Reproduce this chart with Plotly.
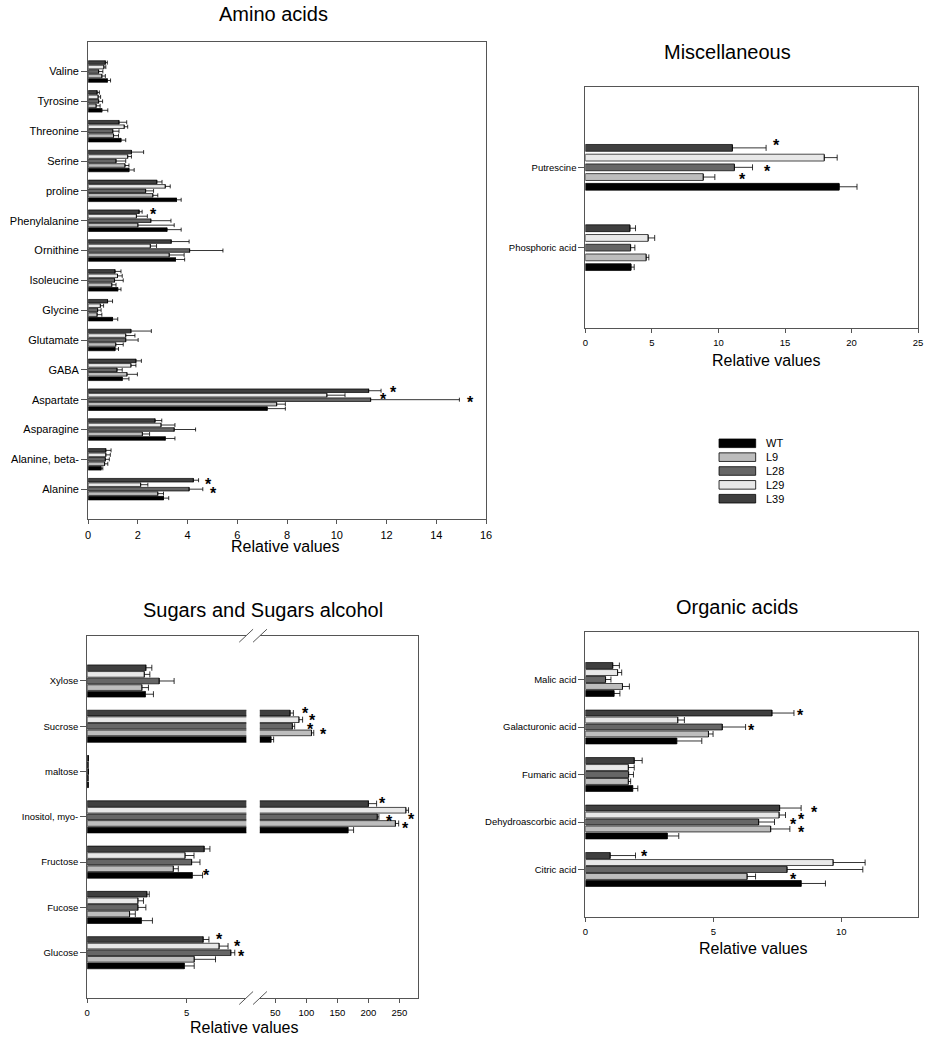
import plotly.graph_objects as go

W, H = 935, 1039
FONT = "Arial, Liberation Sans, sans-serif"

series = ["WT", "L9", "L28", "L29", "L39"]
colors = ["#000000", "#bdbdbd", "#666666", "#e8e8e8", "#3f3f3f"]

# ---------------- Amino acids (listed top to bottom as in the figure)
amino = ["Valine", "Tyrosine", "Threonine", "Serine", "proline", "Phenylalanine",
         "Ornithine", "Isoleucine", "Glycine", "Glutamate", "GABA", "Aspartate",
         "Asparagine", "Alanine, beta-", "Alanine"]
amino_wt = [0.77, 0.55, 1.32, 1.64, 3.55, 3.17, 3.51, 1.19, 0.98, 1.08, 1.37, 7.20, 3.10, 0.52, 3.03]
amino_wt_sd = [0.13, 0.24, 0.19, 0.21, 0.19, 0.57, 0.37, 0.13, 0.21, 0.14, 0.27, 0.73, 0.39, 0.07, 0.21]
amino_l9 = [0.55, 0.32, 1.02, 1.48, 2.60, 2.00, 3.26, 0.95, 0.36, 1.11, 1.56, 7.58, 2.18, 0.66, 2.80]
amino_l9_sd = [0.14, 0.16, 0.20, 0.16, 0.20, 1.46, 0.60, 0.17, 0.19, 0.30, 0.42, 0.35, 0.29, 0.13, 0.23]
amino_l28 = [0.42, 0.42, 0.99, 1.12, 2.31, 2.52, 4.08, 1.06, 0.38, 1.51, 1.16, 11.36, 3.46, 0.69, 4.06]
amino_l28_sd = [0.17, 0.16, 0.25, 0.39, 0.32, 0.81, 1.34, 0.35, 0.14, 0.50, 0.21, 3.57, 0.86, 0.16, 0.55]
amino_l29 = [0.63, 0.40, 1.45, 1.59, 3.10, 1.94, 2.50, 1.18, 0.49, 1.51, 1.72, 9.60, 2.93, 0.71, 2.11]
amino_l29_sd = [0.08, 0.10, 0.14, 0.15, 0.20, 0.44, 0.25, 0.19, 0.13, 0.37, 0.20, 0.73, 0.56, 0.18, 0.29]
amino_l39 = [0.69, 0.36, 1.24, 1.74, 2.76, 2.05, 3.34, 1.08, 0.78, 1.72, 1.92, 11.28, 2.69, 0.71, 4.23]
amino_l39_sd = [0.08, 0.09, 0.31, 0.49, 0.21, 0.12, 0.72, 0.24, 0.20, 0.82, 0.22, 0.50, 0.27, 0.21, 0.21]

# ---------------- Miscellaneous
misc = ["Putrescine", "Phosphoric acid"]
misc_wt = [19.07, 3.43]
misc_wt_sd = [1.34, 0.24]
misc_l9 = [8.86, 4.57]
misc_l9_sd = [0.87, 0.20]
misc_l28 = [11.20, 3.40]
misc_l28_sd = [1.36, 0.32]
misc_l29 = [17.95, 4.72]
misc_l29_sd = [0.97, 0.49]
misc_l39 = [11.05, 3.35]
misc_l39_sd = [2.53, 0.42]

# ---------------- Sugars and sugar alcohols
sugars = ["Xylose", "Sucrose", "maltose", "Inositol, myo-", "Fructose", "Fucose", "Glucose"]
sug_wt = [2.92, 43.0, 0.05, 167.2, 5.28, 2.72, 4.88]
sug_wt_sd = [0.41, 4.3, 0, 9.0, 0.52, 0.56, 0.50]
sug_l9 = [2.75, 108.3, 0.04, 243.6, 4.33, 2.13, 5.38]
sug_l9_sd = [0.33, 3.7, 0, 5.3, 0.25, 0.29, 1.07]
sug_l28 = [3.62, 77.5, 0.06, 214.4, 5.25, 2.55, 7.22]
sug_l28_sd = [0.75, 3.7, 0, 2.6, 0.42, 0.40, 0.20]
sug_l29 = [2.87, 88.1, 0.04, 260.5, 4.92, 2.55, 6.63]
sug_l29_sd = [0.28, 5.9, 0, 4.3, 0.45, 0.28, 0.45]
sug_l39 = [2.95, 73.8, 0.06, 200.1, 5.88, 3.00, 5.83]
sug_l39_sd = [0.30, 5.3, 0, 13.2, 0.29, 0.12, 0.29]

# ---------------- Organic acids
organic = ["Malic acid", "Galacturonic acid", "Fumaric acid", "Dehydroascorbic acid", "Citric acid"]
org_wt = [1.12, 3.57, 1.85, 3.20, 8.43]
org_wt_sd = [0.23, 0.98, 0.20, 0.45, 0.95]
org_l9 = [1.45, 4.81, 1.68, 7.24, 6.32]
org_l9_sd = [0.27, 0.18, 0.09, 0.75, 0.33]
org_l28 = [0.79, 5.35, 1.69, 6.77, 7.88]
org_l28_sd = [0.21, 0.91, 0.19, 0.62, 2.96]
org_l29 = [1.26, 3.61, 1.68, 7.57, 9.68]
org_l29_sd = [0.16, 0.26, 0.23, 0.25, 1.25]
org_l39 = [1.07, 7.29, 1.91, 7.59, 0.97]
org_l39_sd = [0.26, 0.86, 0.31, 0.84, 0.99]

# significance marks: (category, series, px right of error bar, px up)
amino_stars = [("Phenylalanine", "L39", 11, 1), ("Aspartate", "L39", 12, 2),
               ("Aspartate", "L29", 38, 0), ("Aspartate", "L28", 11, 1),
               ("Alanine", "L39", 10, 0), ("Alanine", "L28", 11, 0)]
misc_stars = [("Putrescine", "L39", 10, 6), ("Putrescine", "L28", 15, 0),
              ("Putrescine", "L9", 28, 2)]
sugar_stars = [("Sucrose", "L39", 12, 4), ("Sucrose", "L29", 10, 3), ("Sucrose", "L28", 16, 1),
               ("Sucrose", "L9", 10, 2), ("Inositol, myo-", "L39", 6, 4),
               ("Inositol, myo-", "L29", 3, -5), ("Inositol, myo-", "L28", 11, -1),
               ("Inositol, myo-", "L9", 7, -1), ("Fructose", "WT", 4, 4),
               ("Glucose", "L39", 11, 4), ("Glucose", "L29", 9, 4), ("Glucose", "L28", 7, 0)]
org_stars = [("Galacturonic acid", "L39", 7, 2), ("Galacturonic acid", "L28", 6, 1),
             ("Dehydroascorbic acid", "L39", 13, 0), ("Dehydroascorbic acid", "L29", 16, 0),
             ("Dehydroascorbic acid", "L28", 19, 2), ("Dehydroascorbic acid", "L9", 12, 0),
             ("Citric acid", "L39", 9, 3), ("Citric acid", "L9", 38, 1)]


def px(x):
    return x / W


def py(y):
    return 1 - y / H


fig = go.Figure()
annotations = []


def add_panel(cats, vals, sds, xa, ya, sp, bw, cap):
    n = len(cats)
    ycats = cats[::-1]
    for i, name in enumerate(series):
        fig.add_trace(go.Bar(
            y=ycats, x=vals[i][::-1], orientation="h", name=name,
            width=bw, offset=(i - 2) * sp - bw / 2,
            marker=dict(color=colors[i], line=dict(color="black", width=0.7)),
            error_x=dict(type="data", symmetric=False, array=sds[i][::-1],
                         arrayminus=[0] * n, color="black", thickness=0.8, width=cap),
            xaxis=xa, yaxis=ya, showlegend=False))


def add_stars(stars, cats, vals, sds, sp, axes):
    n = len(cats)
    for cat, s, dx, dy in stars:
        j = cats.index(cat)
        i = series.index(s)
        end = vals[i][j] + sds[i][j]
        xa, ya = axes(end)
        annotations.append(dict(
            text="<b>*</b>", x=end, y=(n - 1 - j) + (i - 2) * sp,
            xref=xa, yref=ya, showarrow=False, xanchor="center", yanchor="middle",
            xshift=dx, yshift=dy - 4, font=dict(size=16, color="black")))


amino_vals = [amino_wt, amino_l9, amino_l28, amino_l29, amino_l39]
amino_sds = [amino_wt_sd, amino_l9_sd, amino_l28_sd, amino_l29_sd, amino_l39_sd]
misc_vals = [misc_wt, misc_l9, misc_l28, misc_l29, misc_l39]
misc_sds = [misc_wt_sd, misc_l9_sd, misc_l28_sd, misc_l29_sd, misc_l39_sd]
sug_vals = [sug_wt, sug_l9, sug_l28, sug_l29, sug_l39]
sug_sds = [sug_wt_sd, sug_l9_sd, sug_l28_sd, sug_l29_sd, sug_l39_sd]
org_vals = [org_wt, org_l9, org_l28, org_l29, org_l39]
org_sds = [org_wt_sd, org_l9_sd, org_l28_sd, org_l29_sd, org_l39_sd]

add_panel(amino, amino_vals, amino_sds, "x", "y", 0.15, 0.12, 2)
add_panel(misc, misc_vals, misc_sds, "x2", "y2", 0.121, 0.085, 3)
add_panel(sugars, sug_vals, sug_sds, "x3", "y3", 0.146, 0.125, 3)
add_panel(sugars, sug_vals, sug_sds, "x4", "y4", 0.146, 0.125, 3)
add_panel(organic, org_vals, org_sds, "x5", "y5", 0.147, 0.125, 3)

add_stars(amino_stars, amino, amino_vals, amino_sds, 0.15, lambda v: ("x", "y"))
add_stars(misc_stars, misc, misc_vals, misc_sds, 0.121, lambda v: ("x2", "y2"))
add_stars(sugar_stars, sugars, sug_vals, sug_sds, 0.146,
          lambda v: ("x4", "y4") if v > 8 else ("x3", "y3"))
add_stars(org_stars, organic, org_vals, org_sds, 0.147, lambda v: ("x5", "y5"))

LINE = "#555555"
xbase = dict(showline=True, linecolor=LINE, linewidth=1, mirror=True, ticks="outside",
             ticklen=4, tickcolor=LINE, showgrid=False, zeroline=False,
             ticklabelstandoff=2, tickfont=dict(size=9.5, color="black"))
ybase = dict(type="category", showline=True, linecolor=LINE, linewidth=1, mirror=True,
             ticks="outside", ticklen=6, tickcolor=LINE, showgrid=False, zeroline=False,
             tickfont=dict(size=9.5, color="black"))

# panel titles and axis labels
titles = [("Amino acids", 273, 14), ("Miscellaneous", 732, 52),
          ("Sugars and Sugars alcohol", 263, 610), ("Organic acids", 741, 607)]
for t, x, y in titles:
    annotations.append(dict(text=t, x=px(x), y=py(y), xref="paper", yref="paper",
                            showarrow=False, xanchor="center", yanchor="middle",
                            font=dict(size=20, color="black")))
for x, y in [(285, 546), (771, 361), (244, 1027), (758, 948)]:
    annotations.append(dict(text="Relative values", x=px(x), y=py(y), xref="paper",
                            yref="paper", showarrow=False, xanchor="center",
                            yanchor="middle", font=dict(size=16, color="black")))

# legend drawn as wide boxes
shapes = []
for i, name in enumerate(series):
    yc = 443.3 + i * 13.85
    shapes.append(dict(type="rect", xref="paper", yref="paper", x0=px(723), x1=px(760),
                       y0=py(yc - 4.3), y1=py(yc + 4.3), fillcolor=colors[i],
                       line=dict(color="black", width=0.8)))
    annotations.append(dict(text=name, x=px(768), y=py(yc), xref="paper", yref="paper",
                            showarrow=False, xanchor="left", yanchor="middle",
                            font=dict(size=11, color="black")))

# axis break marks on the sugar panel
gap_l, gap_r = 245.7, 259.3
gc = (gap_l + gap_r) / 2
for yb in (635.7, 998):
    for off in (-7, 7):
        shapes.append(dict(type="line", xref="paper", yref="paper",
                           x0=px(gc + off - 7), y0=py(yb + 6.5),
                           x1=px(gc + off + 7), y1=py(yb - 6.5),
                           line=dict(color=LINE, width=1)))

fig.update_layout(
    width=W, height=H, margin=dict(l=0, r=0, t=0, b=0),
    plot_bgcolor="white", paper_bgcolor="white", barmode="overlay", showlegend=False,
    font=dict(family=FONT, color="black"),
    xaxis=dict(xbase, domain=[px(86), px(487.7)], range=[0, 16], dtick=2,
               ticklabelstandoff=2, tickfont=dict(size=11, color="black"), anchor="y"),
    yaxis=dict(ybase, domain=[py(519), py(41.7)], range=[-1, 15],
               tickfont=dict(size=11, color="black"), anchor="x"),
    xaxis2=dict(xbase, domain=[px(588), px(924)], range=[0, 25], dtick=5, anchor="y2"),
    yaxis2=dict(ybase, domain=[py(328), py(87)], range=[-1, 2], anchor="x2"),
    xaxis3=dict(xbase, domain=[px(85), px(gap_l)], range=[0, 8], tickvals=[0, 5],
                anchor="y3"),
    yaxis3=dict(ybase, domain=[py(998), py(635.7)], range=[-1, 7], mirror=False,
                anchor="x3"),
    xaxis4=dict(xbase, domain=[px(gap_r), px(419)], range=[25, 280],
                tickvals=[50, 100, 150, 200, 250], anchor="y4"),
    yaxis4=dict(ybase, domain=[py(998), py(635.7)], range=[-1, 7], mirror=False,
                side="right", ticks="", showticklabels=False, anchor="x4"),
    xaxis5=dict(xbase, domain=[px(588), px(924)], range=[0, 13], tickvals=[0, 5, 10],
                anchor="y5"),
    yaxis5=dict(ybase, domain=[py(917), py(632)], range=[-1, 5], anchor="x5"),
    annotations=annotations, shapes=shapes,
)

# drop the page's default body margin so the figure sits at the window corner
fig.write_html("out.html", config={"displayModeBar": False},
               post_script="document.body.style.margin='0px';")
